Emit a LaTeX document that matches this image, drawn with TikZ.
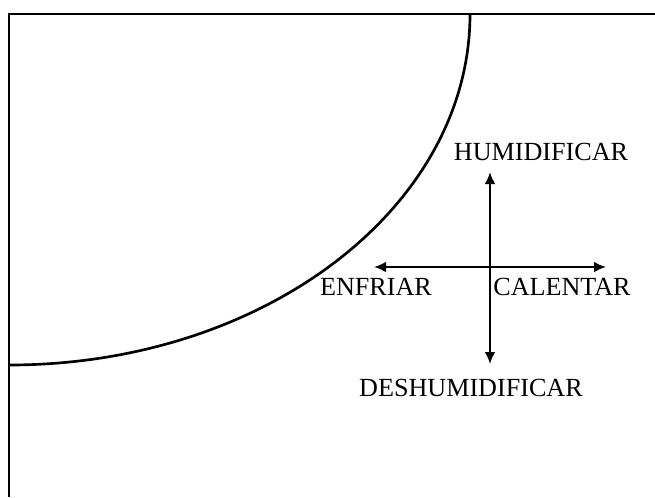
\documentclass[tikz,border=0pt]{standalone}
\usepackage{fontspec}
\setmainfont{Liberation Serif}
\usetikzlibrary{arrows.meta}

\tikzset{
  rotulo/.style={font=\fontsize{19.6}{22}\selectfont, inner sep=0pt},
  flecha/.style={line width=1.6pt, {Latex[length=9pt,width=8pt]}-{Latex[length=9pt,width=8pt]}}
}

\begin{document}
\begin{tikzpicture}[x=0.75pt,y=-0.75pt]
  \useasboundingbox (0,0) rectangle (655,497);
  % marco
  \draw[line width=2pt] (9,497) -- (9,14) -- (655,14);
  % curva de saturacion
  \draw[line width=2pt] (470,14) arc[start angle=0, end angle=90, x radius=461, y radius=351];
  % extremos de las flechas
  \coordinate (arriba) at (490,172);
  \coordinate (abajo) at (490,364);
  \coordinate (izq) at (374,267);
  \coordinate (der) at (606,267);
  \draw[flecha] (abajo) -- (arriba);
  \draw[flecha] (izq) -- (der);
  % rotulos
  \node[rotulo] (humid) at (541,152) {HUMIDIFICAR};
  \node[rotulo] (enfriar) at (376,287) {ENFRIAR};
  \node[rotulo] (calentar) at (562,287) {CALENTAR};
  \node[rotulo] (deshumid) at (471,388) {DESHUMIDIFICAR};
\end{tikzpicture}
\end{document}
